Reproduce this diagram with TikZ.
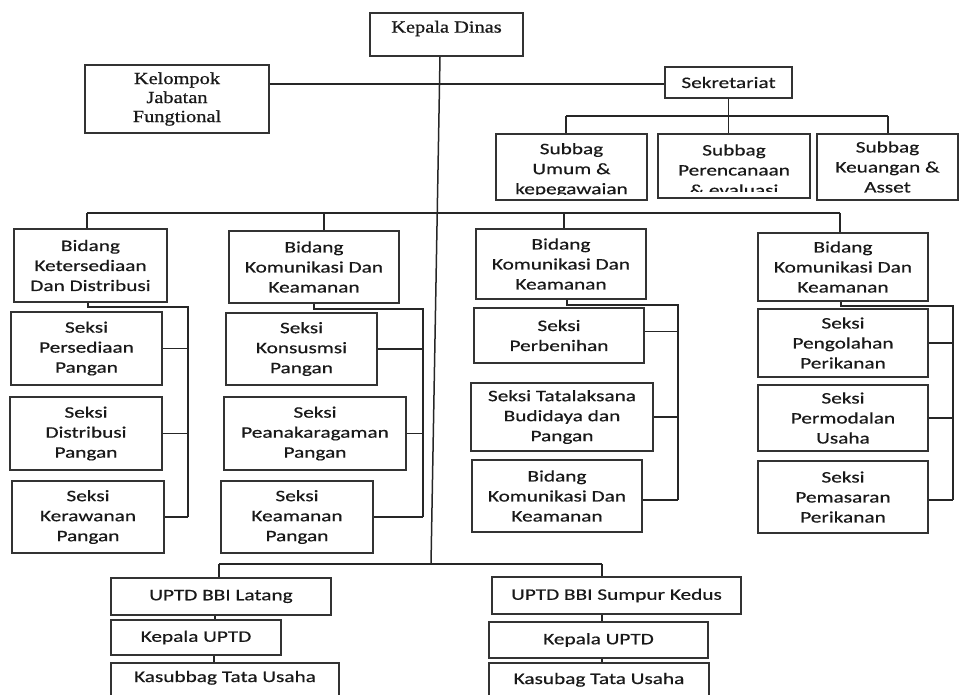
\documentclass[tikz,border=0pt]{standalone}
\usepackage{fontspec}
\newfontfamily\sansf[FakeStretch=1.33,FakeBold=0.5]{Carlito}
\newfontfamily\seriff[FakeStretch=1.2,FakeBold=0.8]{Liberation Serif}
\begin{document}
\begin{tikzpicture}[x=1pt,y=-1pt,
  box/.style={draw=black!80, line width=1.7pt, inner sep=0pt, align=center,
    text=black!90, font=\sansf\fontsize{16pt}{20pt}\selectfont},
  sbox/.style={box, font=\seriff\fontsize{17pt}{19pt}\selectfont},
  txt/.style={inner sep=0pt, align=center, text=black!90, font=\sansf\fontsize{16pt}{20pt}\selectfont},
  conn/.style={draw=black!85, line width=1.5pt}]
\useasboundingbox (0,0) rectangle (959,695);
\clip (0,0) rectangle (959,695);
% top level
\node[sbox, minimum width=153pt, text height=19.6pt, text depth=23.4pt] (kd) at (446.5,34.5) {Kepala Dinas};
\node[sbox, minimum width=184pt, minimum height=68pt] (kjf) at (177,99) {Kelompok\\Jabatan\\Fungtional};
\node[box, minimum width=127pt, minimum height=31pt] (sek) at (728.5,82.5) {Sekretariat};
% subbag
\node[box, minimum width=151pt, minimum height=66pt] (sb1) at (571.5,167) {};
\node[box, minimum width=152pt, minimum height=64pt] (sb2) at (734,166) {};
\node[box, minimum width=141pt, minimum height=66pt] (sb3) at (887.5,167) {Subbag\\Keuangan \&\\Asset};
\begin{scope}
\clip (sb1.north west) rectangle ([yshift=6pt]sb1.south east);
\node[txt] (sb1t) at (571.5,170) {Subbag\\Umum \&\\kepegawaian};
\end{scope}
\begin{scope}
\clip (sb2.north west) rectangle ([yshift=7pt]sb2.south east);
\node[txt] (sb2t) at (734,170) {Subbag\\Perencanaan\\\& evaluasi};
\end{scope}
% bidang
\node[box, minimum width=153pt, minimum height=73pt] (b1) at (90.5,265.5) {Bidang\\Ketersediaan\\Dan Distribusi};
\node[box, minimum width=170pt, minimum height=72pt] (b2) at (314,267) {Bidang\\Komunikasi Dan\\Keamanan};
\node[box, minimum width=170pt, minimum height=70pt] (b3) at (561,264) {Bidang\\Komunikasi Dan\\Keamanan};
\node[box, minimum width=170pt, minimum height=68pt] (b4) at (843,267) {Bidang\\Komunikasi Dan\\Keamanan};
% seksi column 1
\node[box, minimum width=151pt, minimum height=73pt] (s1a) at (86.5,348.5) {Seksi\\Persediaan\\Pangan};
\node[box, minimum width=152pt, minimum height=73pt] (s1b) at (86,433.5) {Seksi\\Distribusi\\Pangan};
\node[box, minimum width=152pt, minimum height=72pt] (s1c) at (88,517) {Seksi\\Kerawanan\\Pangan};
% column 2
\node[box, minimum width=151pt, minimum height=72pt] (s2a) at (301.5,349) {Seksi\\Konsusmsi\\Pangan};
\node[box, minimum width=182pt, minimum height=73pt] (s2b) at (315,433.5) {Seksi\\Peanakaragaman\\Pangan};
\node[box, minimum width=152pt, minimum height=72pt] (s2c) at (297,517) {Seksi\\Keamanan\\Pangan};
% column 3
\node[box, minimum width=170pt, minimum height=55pt] (s3a) at (559,335.5) {Seksi\\Perbenihan};
\node[box, minimum width=182pt, minimum height=68pt] (s3b) at (562,417) {Seksi Tatalaksana\\Budidaya dan\\Pangan};
\node[box, minimum width=170pt, minimum height=72pt] (s3c) at (557,496) {Bidang\\Komunikasi Dan\\Keamanan};
% column 4
\node[box, minimum width=170pt, minimum height=68pt] (s4a) at (843,343) {Seksi\\Pengolahan\\Perikanan};
\node[box, minimum width=170pt, minimum height=66pt] (s4b) at (843,418) {Seksi\\Permodalan\\Usaha};
\node[box, minimum width=170pt, minimum height=72pt] (s4c) at (843,497) {Seksi\\Pemasaran\\Perikanan};
% UPTD
\node[box, minimum width=220pt, minimum height=37pt] (u1) at (221,596.5) {UPTD BBI Latang};
\node[box, minimum width=170pt, minimum height=35pt] (k1) at (196,637.5) {Kepala UPTD};
\node[box, minimum width=228pt, text height=19pt, text depth=40pt] (t1) at (225,692.5) {Kasubbag Tata Usaha};
\node[box, minimum width=249pt, minimum height=37pt] (u2) at (616.5,595.5) {UPTD BBI Sumpur Kedus};
\node[box, minimum width=219pt, minimum height=36pt] (k2) at (598.5,640) {Kepala UPTD};
\node[box, minimum width=220pt, text height=21pt, text depth=40pt] (t2) at (599,693.5) {Kasubag Tata Usaha};
% coordinates
\coordinate (mb) at (431,564);
\coordinate (bl) at (87,213);
\coordinate (br) at (840,213);
\coordinate (d2) at (324,213);
\coordinate (d3) at (564,213);
\coordinate (sl) at (566,116);
\coordinate (sr) at (888,116);
\coordinate (c1) at (188,307);
\coordinate (c2) at (423,309);
\coordinate (c3) at (678,305);
\coordinate (c4) at (953,306);
\coordinate (ub1) at (219,564);
\coordinate (ub2) at (602,564);
% connectors
\draw[conn] ([xshift=-6.5pt]kd.south) -- (mb);
\draw[conn] ([yshift=15pt]kjf.east) -- ([yshift=15pt]kjf.east -| sek.west);
\draw[conn] (sek.south) -- (sek.south |- sb2.north);
\draw[conn] (sl) -- (sr);
\draw[conn] (sl) -- (sl |- sb1.north);
\draw[conn] (sr) -- (sr |- sb3.north);
\draw[conn] (bl) -- (br);
\draw[conn] (bl) -- (bl |- b1.north);
\draw[conn] (d2) -- (d2 |- b2.north);
\draw[conn] (d3) -- (d3 |- b3.north);
\draw[conn] (br) -- (br |- b4.north);
\draw[conn] ([xshift=-2.5pt]b1.south) |- (c1) -- (c1 |- s1c.east);
\draw[conn] (b2.south) |- (c2) -- (c2 |- s2c.east);
\draw[conn] ([xshift=6pt]b3.south) |- (c3) -- ([yshift=-4pt]c3 |- s3c.east);
\draw[conn] ([xshift=-2pt]b4.south) |- (c4) -- ([yshift=-3pt]c4 |- s4c.east);
\foreach \s/\c in {s1a/c1,s1b/c1,s1c/c1,s2a/c2,s2b/c2,s2c/c2,s4a/c4,s4b/c4}
  \draw[conn] (\s.east) -- (\s.east -| \c);
\draw[conn] ([yshift=4pt]s3a.east) -- ([yshift=4pt]s3a.east -| c3);
\draw[conn] (s3b.east) -- (s3b.east -| c3);
\draw[conn] ([yshift=-4pt]s3c.east) -- ([yshift=-4pt]s3c.east -| c3);
\draw[conn] ([yshift=-3pt]s4c.east) -- ([yshift=-3pt]s4c.east -| c4);
\draw[conn] (ub1) -- (ub2);
\draw[conn] (ub1) -- (ub1 |- u1.north);
\draw[conn] (ub2) -- (ub2 |- u2.north);
\draw[conn] ([xshift=-6pt]u1.south) -- ([xshift=-6pt]u1.south |- k1.north);
\draw[conn] ([xshift=18pt]k1.south) -- ([xshift=18pt]k1.south |- t1.north);
\draw[conn] (ub2 |- u2.south) -- (ub2 |- k2.north);
\draw[conn] (ub2 |- k2.south) -- (ub2 |- t2.north);
\end{tikzpicture}
\end{document}
